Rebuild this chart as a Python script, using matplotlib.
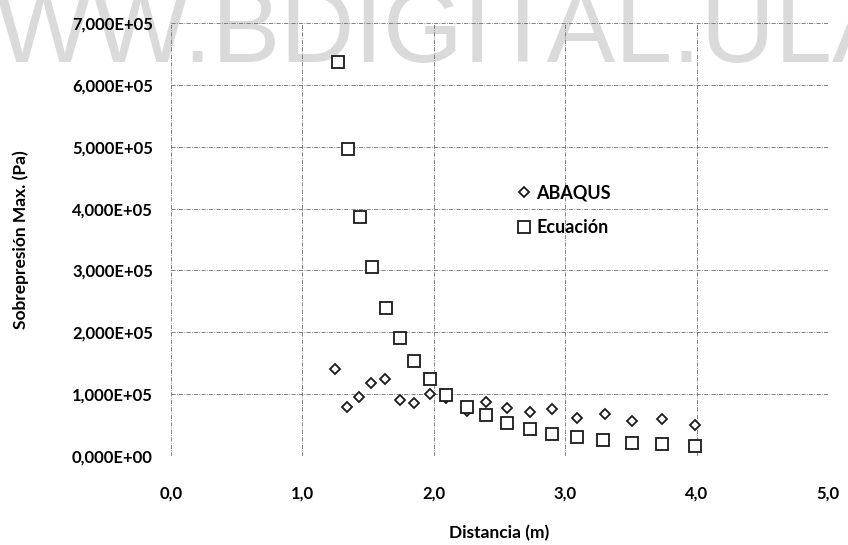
import matplotlib
matplotlib.use("Agg")
import matplotlib.pyplot as plt
from matplotlib.ticker import FuncFormatter, MultipleLocator

# Peak overpressure versus distance: simulation vs. empirical equation
dist_abaqus = [1.25, 1.34, 1.43, 1.52, 1.63, 1.74, 1.85, 1.97, 2.09, 2.25,
               2.40, 2.56, 2.73, 2.90, 3.09, 3.30, 3.51, 3.74, 3.99]
pres_abaqus = [1.40e5, 0.79e5, 0.95e5, 1.18e5, 1.25e5, 0.90e5, 0.85e5, 1.01e5, 0.93e5, 0.72e5,
               0.88e5, 0.78e5, 0.71e5, 0.76e5, 0.61e5, 0.68e5, 0.56e5, 0.60e5, 0.50e5]

dist_ecuacion = [1.27, 1.35, 1.44, 1.53, 1.64, 1.74, 1.85, 1.97, 2.09, 2.25,
                 2.40, 2.56, 2.73, 2.90, 3.09, 3.29, 3.51, 3.74, 3.99]
pres_ecuacion = [6.37e5, 4.97e5, 3.86e5, 3.05e5, 2.39e5, 1.91e5, 1.53e5, 1.24e5, 0.99e5, 0.79e5,
                 0.66e5, 0.54e5, 0.435e5, 0.36e5, 0.30e5, 0.26e5, 0.21e5, 0.19e5, 0.16e5]

FONT = ["Lato", "DejaVu Sans"]
plt.rcParams["font.family"] = FONT

fig = plt.figure(figsize=(8.48, 5.45), dpi=100)
fig.patch.set_facecolor("white")

# Repository watermark across the top, behind the chart
fig.text(-101 / 848, 1 - 62 / 545, "WWW.BDIGITAL.ULA.VE", fontsize=74,
         family=["Liberation Sans", "DejaVu Sans"], color="#dadada",
         ha="left", va="baseline", zorder=-5)

ax = fig.add_axes([171 / 848, 1 - 456 / 545, (828 - 171) / 848, (456 - 23) / 545])
ax.set_facecolor("none")

ax.set_xlim(0, 5)
ax.set_ylim(0, 7e5)
ax.xaxis.set_major_locator(MultipleLocator(1))
ax.yaxis.set_major_locator(MultipleLocator(1e5))
ax.xaxis.set_major_formatter(FuncFormatter(lambda v, p: f"{v:.1f}".replace(".", ",")))
ax.yaxis.set_major_formatter(FuncFormatter(lambda v, p: f"{v:.3E}".replace(".", ",")))

for s in ax.spines.values():
    s.set_visible(False)
ax.tick_params(length=0)
ax.tick_params(axis="y", pad=13, labelsize=12)
ax.tick_params(axis="x", pad=21, labelsize=12)
for lbl in ax.get_xticklabels() + ax.get_yticklabels():
    lbl.set_fontweight("bold")

ax.grid(True, color="#707070", linewidth=0.6, linestyle=(0, (5, 1.5, 1, 1.5)), zorder=1)
ax.set_axisbelow(True)

ax.plot(dist_abaqus, pres_abaqus, linestyle="none", marker="D", markersize=5.6,
        markerfacecolor="white", markeredgecolor="#1a1a1a", markeredgewidth=1.3,
        label="ABAQUS", zorder=3, clip_on=False)
ax.plot(dist_ecuacion, pres_ecuacion, linestyle="none", marker="s", markersize=8.5,
        markerfacecolor="white", markeredgecolor="#1a1a1a", markeredgewidth=1.3,
        label="Ecuación", zorder=4, clip_on=False)

leg = ax.legend(loc="upper left", bbox_to_anchor=((501 - 171) / 657, (456 - 168) / 433),
                frameon=False, handlelength=0.7, handletextpad=0.35, labelspacing=1.0,
                prop={"family": FONT, "weight": "bold", "size": 13})

ax.set_xlabel("Distancia (m)", fontsize=12.5, fontweight="bold", labelpad=17)
ax.set_ylabel("Sobrepresión Max. (Pa)", fontsize=12.5, fontweight="bold", labelpad=31)

fig.savefig("out.png", dpi=100, facecolor="white")
